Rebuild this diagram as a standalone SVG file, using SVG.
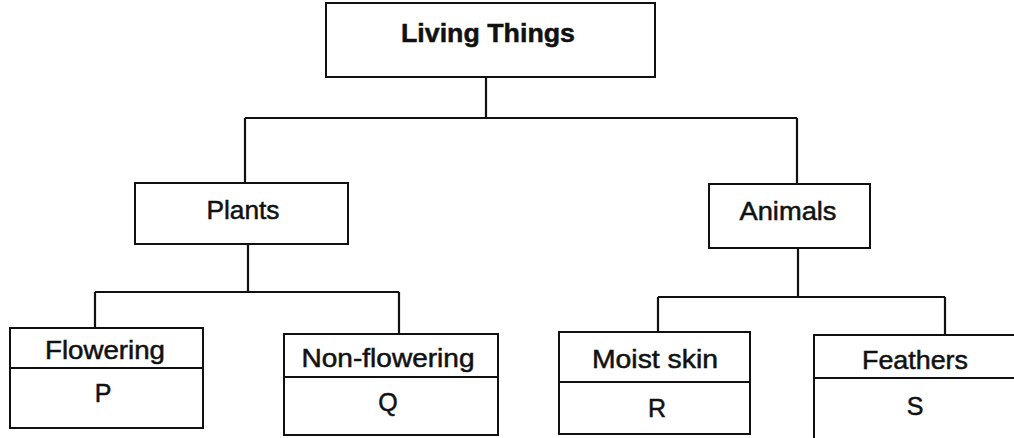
<svg xmlns="http://www.w3.org/2000/svg" width="1014" height="438" viewBox="0 0 1014 438">
<style>
.box{fill:#fff;stroke:#111;stroke-width:2}
.div{stroke:#111;stroke-width:2}
.con{fill:none;stroke:#111;stroke-width:2.2}
text{font-family:"Liberation Sans",Arial,sans-serif;font-size:25px;fill:#111;stroke:#111;stroke-width:0.5;text-anchor:middle}
.title{font-weight:bold;font-size:26px}
</style>
<rect width="1014" height="438" fill="#fff"/>
<g id="connectors">
<path class="con" d="M486,77 V118 M245,118 H797 M245,118 V183 M797,118 V184"/>
<path class="con" d="M248,244 V292 M95,292 H399 M95,292 V328 M399,292 V334"/>
<path class="con" d="M798,248 V297 M658,297 H945 M658,297 V332 M945,297 V335"/>
</g>
<g id="living-things">
<rect class="box" x="326" y="3" width="329" height="74"/>
<text class="title" x="488" y="42" textLength="174" lengthAdjust="spacingAndGlyphs">Living Things</text>
</g>
<g id="plants">
<rect class="box" x="135" y="183" width="213" height="61"/>
<text x="243" y="219" textLength="73" lengthAdjust="spacingAndGlyphs">Plants</text>
</g>
<g id="animals">
<rect class="box" x="709" y="184" width="161" height="64"/>
<text x="788" y="220" textLength="97" lengthAdjust="spacingAndGlyphs">Animals</text>
</g>
<g id="flowering">
<rect class="box" x="10" y="328" width="193" height="100"/>
<line class="div" x1="10" y1="368" x2="203" y2="368"/>
<text x="105" y="359" textLength="120" lengthAdjust="spacingAndGlyphs">Flowering</text>
<text x="103" y="402">P</text>
</g>
<g id="non-flowering">
<rect class="box" x="284" y="334" width="214" height="101"/>
<line class="div" x1="284" y1="377" x2="498" y2="377"/>
<text x="388" y="367" textLength="173" lengthAdjust="spacingAndGlyphs">Non-flowering</text>
<text x="388" y="411">Q</text>
</g>
<g id="moist-skin">
<rect class="box" x="559" y="332" width="191" height="102"/>
<line class="div" x1="559" y1="382" x2="750" y2="382"/>
<text x="655" y="368" textLength="126" lengthAdjust="spacingAndGlyphs">Moist skin</text>
<text x="657" y="417">R</text>
</g>
<g id="feathers">
<rect class="box" x="814" y="335" width="210" height="115"/>
<line class="div" x1="814" y1="378" x2="1024" y2="378"/>
<text x="915" y="369" textLength="106" lengthAdjust="spacingAndGlyphs">Feathers</text>
<text x="915" y="415">S</text>
</g>
</svg>
